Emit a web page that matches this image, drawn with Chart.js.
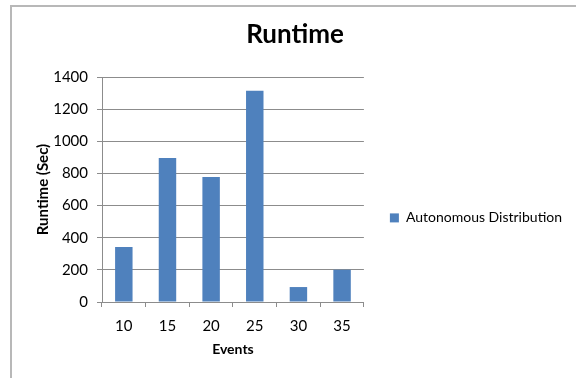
<!DOCTYPE html>
<html>
<head>
<meta charset="utf-8">
<script src="https://cdn.jsdelivr.net/npm/chart.js@4/dist/chart.umd.min.js"></script>
<style>
  html, body { margin: 0; padding: 0; background: #fff; }
  #wrap { position: relative; width: 576px; height: 378px; overflow: hidden; }
  #frame { position: absolute; left: 10px; top: 5px; width: 620px; height: 420px; border: 2px solid #b8b8b8; }
  #runtime-chart { position: absolute; left: 0; top: 0; }
</style>
</head>
<body>
<div id="wrap">
  <div id="frame"></div>
  <canvas id="runtime-chart" width="576" height="378"></canvas>
</div>
<script>
//chart data
const events = ['10', '15', '20', '25', '30', '35'];
const runtimeSec = [342, 896, 778, 1315, 93, 201];
const seriesName = 'Autonomous Distribution';
const yMin = 0;
const yMax = 1400;
const yStep = 200;

const font = 'Lato, "Open Sans", sans-serif';
const gridColor = '#8c8c8c';

const config = {
    type: 'bar',
    data: {
        labels: events,
        datasets: [{
            label: seriesName,
            data: runtimeSec,
            backgroundColor: '#4f81bd',
            borderWidth: 0,
            barPercentage: 0.4,
            categoryPercentage: 1.0,
        }],
    },
    options: {
        responsive: false,
        animation: false,
        layout: {
            padding: { top: 4, bottom: 10, left: 18, right: 4 },
        },
        plugins: {
            title: {
                display: true,
                text: 'Runtime',
                color: '#000',
                font: { family: font, size: 26, weight: 'bold' },
                padding: { top: 15.4, bottom: 26.4 },
            },
            legend: {
                position: 'right',
                maxWidth: 260,
                title: {
                    display: true,
                    text: ' ',
                    font: { family: font, size: 14 },
                    padding: { top: 47, bottom: 0 },
                },
                labels: {
                    boxWidth: 9,
                    boxHeight: 9,
                    padding: 26,
                    color: '#000',
                    font: { family: font, size: 14 },
                },
            },
            tooltip: { enabled: false },
        },
        scales: {
            x: {
                offset: true,
                grid: {
                    offset: true,
                    drawOnChartArea: false,
                    tickLength: 5,
                    color: gridColor,
                },
                border: { color: gridColor },
                ticks: {
                    color: '#000',
                    padding: 10,
                    font: { family: font, size: 15 },
                },
                title: {
                    display: true,
                    text: 'Events',
                    color: '#000',
                    font: { family: font, size: 14, weight: 'bold' },
                    padding: { top: 0, bottom: 10 },
                },
                afterFit: scale => { scale.height = 66; },
            },
            y: {
                min: yMin,
                max: yMax,
                grid: {
                    tickLength: 5,
                    color: gridColor,
                },
                border: { color: gridColor },
                ticks: {
                    stepSize: yStep,
                    color: '#000',
                    padding: 9,
                    font: { family: font, size: 15 },
                    callback: value => String(value),
                },
                title: {
                    display: true,
                    text: 'Runtime (Sec)',
                    color: '#000',
                    font: { family: font, size: 15, weight: 'bold' },
                    padding: { top: 16, bottom: 0 },
                },
                afterFit: scale => { scale.width = 84; },
            },
        },
    },
};

const runtimeChart = new Chart(document.getElementById('runtime-chart'), config);
</script>
</body>
</html>
